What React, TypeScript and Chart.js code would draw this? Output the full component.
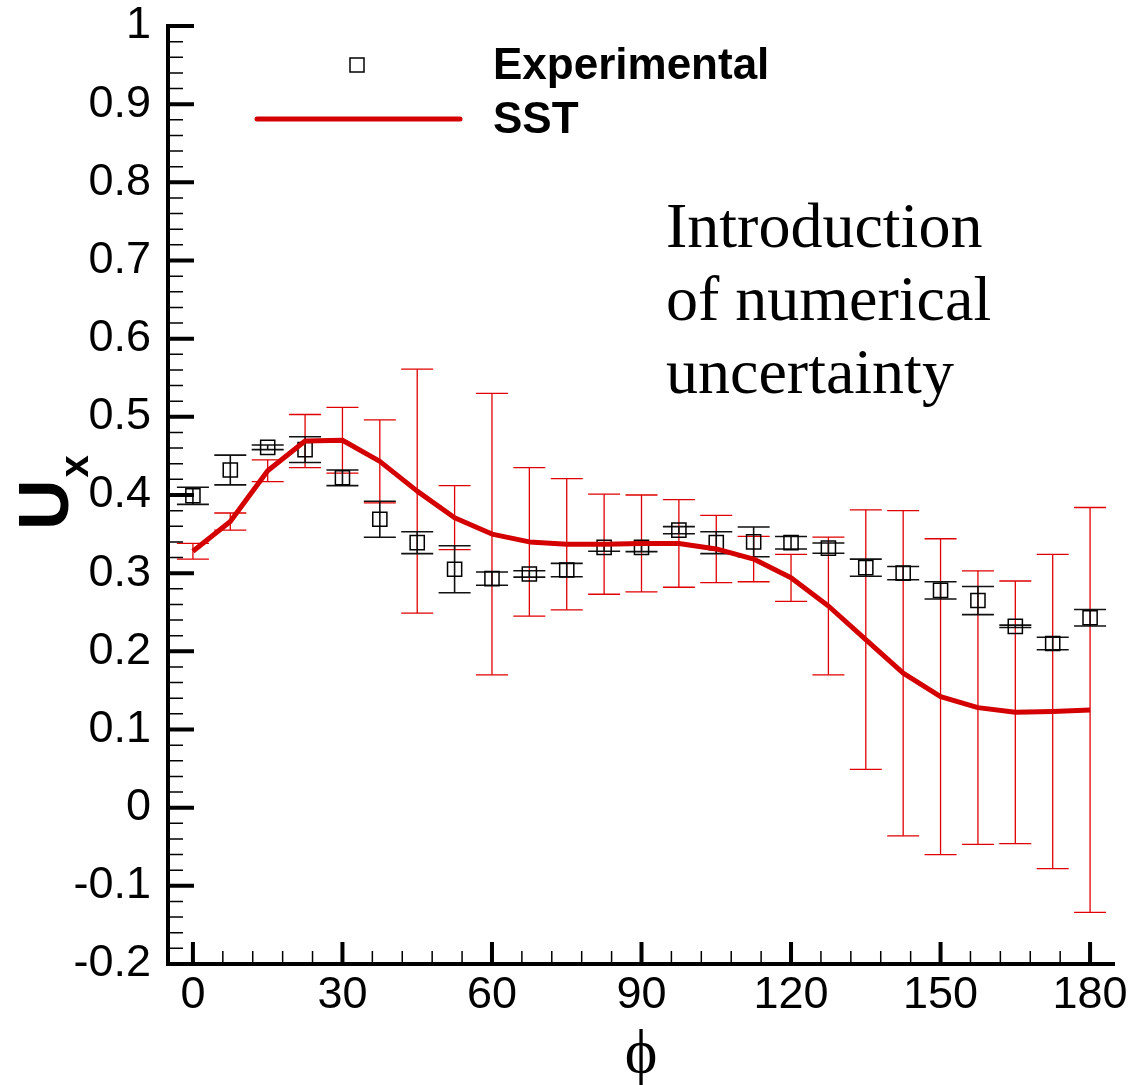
import { useEffect, useRef } from 'react';
import { Chart, registerables } from 'chart.js';

Chart.register(...registerables);

// Azimuthal position (degrees)
const PHI = [0, 7.5, 15, 22.5, 30, 37.5, 45, 52.5, 60, 67.5, 75, 82.5, 90, 97.5, 105, 112.5, 120, 127.5, 135, 142.5, 150, 157.5, 165, 172.5, 180];

// Measured U_x and its error half-width
const EXPERIMENTAL = [0.399, 0.432, 0.461, 0.458, 0.422, 0.369, 0.339, 0.305, 0.293, 0.299, 0.304, 0.333, 0.333, 0.355, 0.339, 0.340, 0.339, 0.332, 0.307, 0.300, 0.278, 0.265, 0.232, 0.210, 0.243];
const EXPERIMENTAL_ERROR = [0.011, 0.019, 0.003, 0.0165, 0.010, 0.023, 0.014, 0.030, 0.0085, 0.004, 0.0085, 0.005, 0.0055, 0.0045, 0.014, 0.019, 0.008, 0.0065, 0.011, 0.0085, 0.011, 0.018, 0.0015, 0.008, 0.0105];

// SST prediction and its numerical uncertainty half-width
const SST = [0.328, 0.366, 0.431, 0.469, 0.470, 0.443, 0.405, 0.371, 0.350, 0.340, 0.337, 0.337, 0.338, 0.338, 0.331, 0.318, 0.294, 0.258, 0.215, 0.172, 0.142, 0.128, 0.122, 0.123, 0.125];
const SST_UNCERTAINTY = [0.010, 0.011, 0.014, 0.034, 0.042, 0.053, 0.156, 0.041, 0.180, 0.095, 0.084, 0.064, 0.062, 0.056, 0.043, 0.029, 0.030, 0.088, 0.166, 0.208, 0.202, 0.175, 0.168, 0.201, 0.259];

// Axis ticks
const X_TICKS = [0, 30, 60, 90, 120, 150, 180];
const Y_TICKS = [-0.2, -0.1, 0, 0.1, 0.2, 0.3, 0.4, 0.5, 0.6, 0.7, 0.8, 0.9, 1];
const MINOR_DIVISIONS = 5;

const NOTE_LINES = ['Introduction', 'of numerical', 'uncertainty'];

const SANS = '"Liberation Sans", Arial, Helvetica, sans-serif';
const SERIF = '"Liberation Serif", "Times New Roman", serif';
const RED = '#d40000';

const errorBars = {
  id: 'errorBars',
  beforeDatasetsDraw(chart: any) {
    const { ctx, scales } = chart;
    const x = scales.x;
    const y = scales.y;
    const cap = 16;
    const bar = (px: number, lo: number, hi: number) => {
      const top = y.getPixelForValue(hi);
      const bot = y.getPixelForValue(lo);
      ctx.beginPath();
      ctx.moveTo(px, top);
      ctx.lineTo(px, bot);
      ctx.stroke();
      ctx.beginPath();
      ctx.moveTo(px - cap, top);
      ctx.lineTo(px + cap, top);
      ctx.moveTo(px - cap, bot);
      ctx.lineTo(px + cap, bot);
      ctx.stroke();
    };
    ctx.save();
    ctx.strokeStyle = '#e00000';
    ctx.lineWidth = 1.3;
    PHI.forEach((p, i) => {
      bar(x.getPixelForValue(p), SST[i] - SST_UNCERTAINTY[i], SST[i] + SST_UNCERTAINTY[i]);
    });
    ctx.strokeStyle = '#111';
    ctx.lineWidth = 1.6;
    PHI.forEach((p, i) => {
      bar(x.getPixelForValue(p), EXPERIMENTAL[i] - EXPERIMENTAL_ERROR[i], EXPERIMENTAL[i] + EXPERIMENTAL_ERROR[i]);
    });
    ctx.restore();
  },
};

const axesFrame = {
  id: 'axesFrame',
  afterDraw(chart: any) {
    const { ctx, chartArea: a, scales } = chart;
    const x = scales.x;
    const y = scales.y;
    ctx.save();
    ctx.strokeStyle = '#000';
    ctx.lineCap = 'butt';

    // minor ticks
    ctx.lineWidth = 1.5;
    ctx.beginPath();
    for (let k = 0; k < X_TICKS.length - 1; k++) {
      const step = (X_TICKS[k + 1] - X_TICKS[k]) / MINOR_DIVISIONS;
      for (let j = 1; j < MINOR_DIVISIONS; j++) {
        const px = x.getPixelForValue(X_TICKS[k] + j * step);
        ctx.moveTo(px, a.bottom);
        ctx.lineTo(px, a.bottom - 13);
      }
    }
    for (let k = 0; k < Y_TICKS.length - 1; k++) {
      const step = (Y_TICKS[k + 1] - Y_TICKS[k]) / MINOR_DIVISIONS;
      for (let j = 1; j < MINOR_DIVISIONS; j++) {
        const py = y.getPixelForValue(Y_TICKS[k] + j * step);
        ctx.moveTo(a.left, py);
        ctx.lineTo(a.left + 15, py);
      }
    }
    ctx.stroke();

    // major ticks
    ctx.lineWidth = 4;
    ctx.beginPath();
    X_TICKS.forEach((v) => {
      const px = x.getPixelForValue(v);
      ctx.moveTo(px, a.bottom);
      ctx.lineTo(px, a.bottom - 22);
    });
    Y_TICKS.forEach((v) => {
      const py = y.getPixelForValue(v);
      ctx.moveTo(a.left, py);
      ctx.lineTo(a.left + 26, py);
    });
    ctx.stroke();

    // axis lines
    ctx.lineWidth = 4;
    ctx.beginPath();
    ctx.moveTo(a.left, a.top - 2);
    ctx.lineTo(a.left, a.bottom + 2);
    ctx.moveTo(a.left - 2, a.bottom);
    ctx.lineTo(a.right, a.bottom);
    ctx.stroke();
    ctx.restore();
  },
};

const decorations = {
  id: 'decorations',
  afterDraw(chart: any) {
    const { ctx } = chart;
    ctx.save();
    ctx.fillStyle = '#000';
    ctx.textBaseline = 'alphabetic';
    ctx.textAlign = 'left';

    // y-axis title U_x
    ctx.save();
    ctx.translate(68, 530);
    ctx.rotate(-Math.PI / 2);
    ctx.font = `bold 70px ${SANS}`;
    ctx.fillText('U', 0, 0);
    const uw = ctx.measureText('U').width;
    ctx.font = `bold 40px ${SANS}`;
    ctx.fillText('x', uw + 2, 20);
    ctx.restore();

    // x-axis title
    ctx.textAlign = 'center';
    ctx.font = `62px ${SERIF}`;
    ctx.fillText('ϕ', 641, 1072);

    // legend
    ctx.textAlign = 'left';
    ctx.strokeStyle = '#000';
    ctx.lineWidth = 1.5;
    ctx.strokeRect(350, 58, 14, 14);
    ctx.strokeStyle = RED;
    ctx.lineWidth = 5;
    ctx.lineCap = 'round';
    ctx.beginPath();
    ctx.moveTo(257, 119);
    ctx.lineTo(460, 119);
    ctx.stroke();
    ctx.font = `bold 44px ${SANS}`;
    ctx.fillText('Experimental', 493, 79);
    ctx.fillText('SST', 493, 133);

    // annotation
    ctx.font = `64px ${SERIF}`;
    NOTE_LINES.forEach((line, i) => ctx.fillText(line, 666, 247 + i * 73));
    ctx.restore();
  },
};

export default function App() {
  const ref = useRef<HTMLCanvasElement>(null);

  useEffect(() => {
    document.body.style.margin = '0';
    const chart = new Chart(ref.current as HTMLCanvasElement, {
      type: 'scatter',
      data: {
        datasets: [
          {
            label: 'SST',
            data: PHI.map((p, i) => ({ x: p, y: SST[i] })),
            showLine: true,
            borderColor: RED,
            borderWidth: 5,
            pointRadius: 0,
            tension: 0,
            borderJoinStyle: 'round',
          },
          {
            label: 'Experimental',
            data: PHI.map((p, i) => ({ x: p, y: EXPERIMENTAL[i] })),
            pointStyle: 'rect',
            pointRadius: 10,
            borderColor: '#000',
            borderWidth: 1.5,
            backgroundColor: 'rgba(0,0,0,0)',
          },
        ],
      },
      options: {
        responsive: false,
        animation: false,
        events: [],
        layout: { padding: { top: 26, right: 19, left: 0, bottom: 0 } },
        plugins: { legend: { display: false }, tooltip: { enabled: false } },
        scales: {
          x: {
            type: 'linear',
            min: -5,
            max: 185,
            grid: { display: false, drawTicks: false },
            border: { display: false },
            ticks: {
              padding: 5,
              color: '#000',
              font: { family: SANS, size: 45 },
              callback: (v: any) => String(v),
            },
            afterBuildTicks: (scale: any) => {
              scale.ticks = X_TICKS.map((v) => ({ value: v }));
            },
            afterFit: (scale: any) => {
              scale.height = 1085 - 964;
              scale.paddingLeft = 0;
              scale.paddingRight = 0;
            },
          },
          y: {
            type: 'linear',
            min: -0.2,
            max: 1,
            grid: { display: false, drawTicks: false },
            border: { display: false },
            ticks: {
              padding: 17,
              color: '#000',
              font: { family: SANS, size: 45 },
              callback: (v: any) => String(Number(Number(v).toFixed(1))),
            },
            afterBuildTicks: (scale: any) => {
              scale.ticks = Y_TICKS.map((v) => ({ value: v }));
            },
            afterFit: (scale: any) => {
              scale.width = 168;
              scale.paddingTop = 0;
              scale.paddingBottom = 0;
            },
          },
        },
      },
      plugins: [errorBars, axesFrame, decorations],
    });
    return () => chart.destroy();
  }, []);

  return (
    <div style={{ width: 1134, height: 1085, background: '#fff' }}>
      <canvas ref={ref} width={1134} height={1085} style={{ display: 'block', width: 1134, height: 1085 }} />
    </div>
  );
}
